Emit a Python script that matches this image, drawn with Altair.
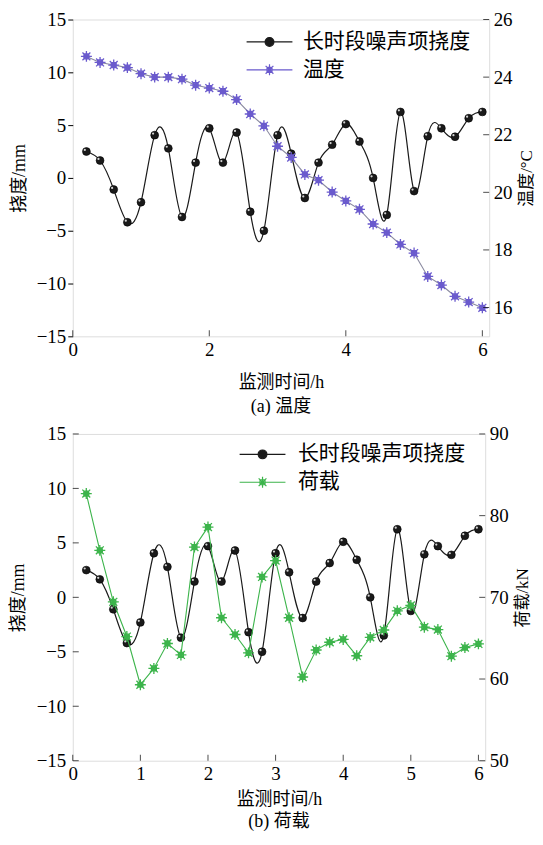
import altair as alt
import pandas as pd

# ---------------- data ----------------
time_h = [0.2, 0.4, 0.6, 0.8, 1.0, 1.2, 1.4, 1.6, 1.8, 2.0,
          2.2, 2.4, 2.6, 2.8, 3.0, 3.2, 3.4, 3.6, 3.8, 4.0,
          4.2, 4.4, 4.6, 4.8, 5.0, 5.2, 5.4, 5.6, 5.8, 6.0]

deflection = [2.5, 1.65, -1.1, -4.2, -2.3, 4.05, 2.8, -3.7, 1.45, 4.7,
              1.45, 4.3, -3.2, -5.0, 4.05, 2.3, -1.9, 1.45, 3.15, 5.1,
              3.45, 0.0, -3.5, 6.25, -1.25, 3.95, 4.7, 3.9, 5.65, 6.25]

temperature = [24.72, 24.51, 24.42, 24.33, 24.12, 24.0, 24.0, 23.93, 23.72, 23.62,
               23.51, 23.22, 22.72, 22.31, 21.6, 21.21, 20.62, 20.42, 20.01, 19.70,
               19.41, 18.90, 18.60, 18.19, 17.89, 17.08, 16.78, 16.39, 16.19, 15.99]

load = [82.7, 75.75, 69.45, 65.2, 59.3, 61.3, 64.35, 62.95, 76.15, 78.6,
        67.5, 65.45, 63.2, 72.5, 74.5, 67.5, 60.25, 63.55, 64.5, 64.85,
        62.85, 65.1, 66.0, 68.35, 69.0, 66.35, 66.05, 62.8, 63.85, 64.3]

series_defl = "长时段噪声项挠度"
series_temp = "温度"
series_load = "荷载"

x_ticks_a = [0, 2, 4, 6]
x_ticks_b = [0, 1, 2, 3, 4, 5, 6]
left_ticks = [-15, -10, -5, 0, 5, 10, 15]
temp_ticks = [16, 18, 20, 22, 24, 26]
load_ticks = [50, 60, 70, 80, 90]

# ---------------- styling ----------------
FONT = "'Liberation Serif', 'Times New Roman', 'Noto Sans CJK SC', serif"
CJK = "'Noto Sans CJK SC', sans-serif"
BLACK = "#1a1a1a"
PURPLE = "#6a5acd"
TEMP_LINE = "#8a8aa0"
GREEN = "#3cb44b"

STAR = ("M-1,0L1,0M0,-1L0,1M-0.72,-0.72L0.72,0.72M-0.72,0.72L0.72,-0.72"
        "M-0.45,-0.45L0.45,-0.45L0.45,0.45L-0.45,0.45Z")
# legend glyphs: a line segment with the marker on it (unit = 5 px at size 100)
LEG_BALL = ("M-8.2,0L1,0M-4.48,0A0.88,0.88,0,1,1,-2.72,0"
            "A0.88,0.88,0,1,1,-4.48,0Z")
LEG_STAR = ("M-8.2,0L1,0M-3.6,-1.1L-3.6,1.1M-4.38,-0.78L-2.82,0.78"
            "M-4.38,0.78L-2.82,-0.78M-4.1,-0.5L-3.1,-0.5L-3.1,0.5L-4.1,0.5Z")

TICK_LEN = 6

df = pd.DataFrame({"time": time_h, "defl": deflection,
                   "temp": temperature, "load": load})

xscale = alt.Scale(domain=[0, 6.1], nice=False, zero=False)


def make_panel(x_ticks, sec_field, sec_name, sec_domain, sec_ticks, sec_title,
               sec_color, sec_line_color, width, height, caption,
               left_tick_out, legend_xy, legend_off, title_pad_left,
               label_pad_left, x_title_pad, cap_offset):
    x_axis = alt.Axis(values=x_ticks, title="监测时间/h", ticks=False, domain=False,
                      grid=False, format="d", labelPadding=4,
                      titlePadding=x_title_pad,
                      labelFont=FONT, titleFont=FONT, labelFontSize=19,
                      titleFontSize=18, titleFontWeight="normal",
                      labelColor="black", titleColor="black", labelFlush=False)
    x_enc = alt.X("time:Q", scale=xscale, axis=x_axis)

    yl_scale = alt.Scale(domain=[-15, 15], nice=False, zero=False)
    yl_axis = alt.Axis(values=left_ticks, title="挠度/mm", domain=False, grid=False,
                       ticks=left_tick_out, tickSize=5, tickColor="black",
                       format="d", labelPadding=label_pad_left,
                       titlePadding=title_pad_left,
                       labelFont=FONT, titleFont=FONT, labelFontSize=19,
                       titleFontSize=18, titleFontWeight="normal",
                       labelColor="black", titleColor="black")

    # ---- deflection (left axis) ----
    defl_line = alt.Chart(df).mark_line(
        interpolate="natural", color=BLACK, strokeWidth=1.2
    ).encode(x=x_enc, y=alt.Y("defl:Q", scale=yl_scale, axis=yl_axis))
    defl_pts = alt.Chart(df).mark_point(
        filled=True, color=BLACK, size=62, opacity=1, strokeWidth=0.6,
        stroke="#000000"
    ).encode(x=x_enc, y=alt.Y("defl:Q", scale=yl_scale, axis=yl_axis))
    defl_hi = alt.Chart(df).mark_point(
        filled=True, color="#e8e8e8", size=5, xOffset=-1.6, yOffset=-1.6, opacity=0.9
    ).encode(x=x_enc, y=alt.Y("defl:Q", scale=yl_scale, axis=yl_axis))

    # inward x ticks (drawn inside the frame)
    xt = pd.DataFrame({"time": x_ticks})
    xtick_layer = alt.Chart(xt).mark_tick(
        orient="vertical", size=TICK_LEN, thickness=1, color="black",
        yOffset=-TICK_LEN / 2
    ).encode(x=x_enc, y=alt.datum(-15, scale=yl_scale, axis=yl_axis))

    layers_left = [defl_line, defl_pts, defl_hi, xtick_layer]
    if not left_tick_out:
        lt = pd.DataFrame({"v": left_ticks})
        layers_left.append(alt.Chart(lt).mark_tick(
            orient="horizontal", size=TICK_LEN, thickness=1, color="black",
            xOffset=TICK_LEN / 2
        ).encode(x=alt.datum(0, scale=xscale, axis=x_axis),
                 y=alt.Y("v:Q", scale=yl_scale, axis=yl_axis)))

    # legend (from scales; no marks drawn)
    names = [series_defl, sec_name]
    leg = alt.Legend(title=None, orient="none", legendX=legend_xy[0],
                     legendY=legend_xy[1], labelFont=CJK, labelFontSize=21,
                     labelColor="black", symbolSize=100, symbolStrokeWidth=1.2,
                     labelOffset=legend_off, rowPadding=6, padding=0,
                     symbolOpacity=1, labelLimit=400)
    leg_df = pd.DataFrame({"series": names, "time": [0, 0], "defl": [0, 0]})
    legend_layer = alt.Chart(leg_df).transform_filter("false").mark_point(
        filled=True
    ).encode(
        x=x_enc, y=alt.Y("defl:Q", scale=yl_scale, axis=yl_axis),
        shape=alt.Shape("series:N", scale=alt.Scale(domain=names,
                        range=[LEG_BALL, LEG_STAR]), legend=leg),
        fill=alt.Fill("series:N", scale=alt.Scale(domain=names,
                      range=[BLACK, "transparent"]), legend=leg),
        stroke=alt.Stroke("series:N", scale=alt.Scale(domain=names,
                          range=[BLACK, sec_color]), legend=leg),
    )
    layers_left.append(legend_layer)
    left = alt.layer(*layers_left)

    # ---- secondary series (right axis) ----
    yr_scale = alt.Scale(domain=sec_domain, nice=False, zero=False)
    yr_axis = alt.Axis(values=sec_ticks, title=sec_title, orient="right",
                       domain=False, grid=False, ticks=False, format="d",
                       labelPadding=4, titlePadding=6, titleAngle=270,
                       titleBaseline="top",
                       labelFont=FONT, titleFont=FONT, labelFontSize=19,
                       titleFontSize=17, titleFontWeight="normal",
                       labelColor="black", titleColor="black")
    sec_line = alt.Chart(df).mark_line(color=sec_line_color, strokeWidth=1.1).encode(
        x=x_enc, y=alt.Y(f"{sec_field}:Q", scale=yr_scale, axis=yr_axis))
    sec_pts = alt.Chart(df).mark_point(
        shape=STAR, size=121, filled=False, color=sec_color, strokeWidth=1.3,
        opacity=1
    ).encode(x=x_enc, y=alt.Y(f"{sec_field}:Q", scale=yr_scale, axis=yr_axis))
    rt = pd.DataFrame({"v": sec_ticks})
    rtick_layer = alt.Chart(rt).mark_tick(
        orient="horizontal", size=TICK_LEN, thickness=1, color="black",
        xOffset=-TICK_LEN / 2
    ).encode(x=alt.datum(6.1, scale=xscale, axis=x_axis),
             y=alt.Y("v:Q", scale=yr_scale, axis=yr_axis))
    right = alt.layer(sec_line, sec_pts, rtick_layer)

    return alt.layer(left, right).resolve_scale(
        y="independent", shape="independent", fill="independent",
        stroke="independent"
    ).properties(
        width=width, height=height,
        title=alt.TitleParams(caption, orient="bottom", font=FONT, fontSize=18,
                              fontWeight="normal", color="black",
                              offset=cap_offset, anchor="middle"),
    )


top = make_panel(x_ticks_a, "temp", series_temp, [15, 26], temp_ticks, "温度/°C",
                 PURPLE, TEMP_LINE, 418, 318, "(a) 温度", True, (205, 12), 5,
                 8, 2, 14, 7)
bottom = make_panel(x_ticks_b, "load", series_load, [50, 90], load_ticks, "荷载/kN",
                    GREEN, GREEN, 414, 328, "(b) 荷载", False, (198, 10), 7,
                    9, 7, 7, 5)

chart = alt.concat(top, bottom, columns=1, spacing=7, padding=0).configure_view(
    stroke="#222222", strokeWidth=1.4
).configure(background="white", padding=0)

chart.save("out.html", embed_options={"renderer": "svg", "actions": False})
